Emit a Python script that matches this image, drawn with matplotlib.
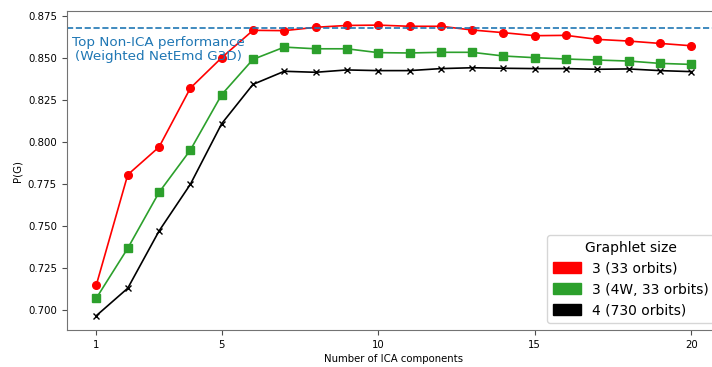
import matplotlib
matplotlib.use("Agg")
import matplotlib.pyplot as plt
from matplotlib.patches import Patch

components = list(range(1, 21))
size3 = [0.7151, 0.7805, 0.7970, 0.8321, 0.8502, 0.8665, 0.8663, 0.8683, 0.8694, 0.8696,
         0.8689, 0.8689, 0.8667, 0.8651, 0.8633, 0.8635, 0.8611, 0.8601, 0.8587, 0.8573]
size3_4w = [0.7071, 0.7367, 0.7700, 0.7952, 0.8282, 0.8492, 0.8565, 0.8555, 0.8555, 0.8532,
            0.8530, 0.8534, 0.8534, 0.8512, 0.8502, 0.8494, 0.8488, 0.8482, 0.8468, 0.8462]
size4 = [0.6966, 0.7129, 0.7470, 0.7748, 0.8109, 0.8343, 0.8421, 0.8415, 0.8429, 0.8425,
         0.8425, 0.8437, 0.8442, 0.8439, 0.8437, 0.8437, 0.8433, 0.8435, 0.8425, 0.8419]
top_non_ica = 0.8677
labels = ["3 (33 orbits)", "3 (4W, 33 orbits)", "4 (730 orbits)"]
colors = ["red", "#2ca02c", "black"]
xticks = [1, 5, 10, 15, 20]

fig = plt.figure(figsize=(7.12, 3.67), dpi=100)
ax = fig.add_axes([0.0937, 0.1008, 0.919, 0.8692])

ax.plot(components, size3, color=colors[0], marker="o", markersize=5.5, lw=1.2)
ax.plot(components, size3_4w, color=colors[1], marker="s", markersize=5.5, lw=1.2)
ax.plot(components, size4, color=colors[2], marker="x", markersize=5, lw=1.2)
ax.axhline(top_non_ica, color="#1f77b4", ls="--", lw=1.2)

ax.text(2.98, 0.8551, "Top Non-ICA performance\n(Weighted NetEmd G3D)", color="#1f77b4",
        fontsize=9.7, ha="center", va="center", linespacing=1.1)

ax.set_xlim(0.05, 20.95)
ax.set_ylim(0.688, 0.878)
ax.set_xticks(xticks)
ax.set_yticks([0.700, 0.725, 0.750, 0.775, 0.800, 0.825, 0.850, 0.875])
ax.yaxis.set_major_formatter(matplotlib.ticker.FormatStrFormatter("%.3f"))
ax.tick_params(labelsize=7.3, color="0.3")
ax.set_xlabel("Number of ICA components", fontsize=7.3, labelpad=3)
ax.set_ylabel("P(G)", fontsize=7.3)
for s in ax.spines.values():
    s.set_color("0.45")

handles = [Patch(color=c, label=l) for c, l in zip(colors, labels)]
leg = ax.legend(handles=handles, title="Graphlet size", loc="lower right", fontsize=10,
                title_fontsize=10, handleheight=0.8)

fig.savefig("out.png", dpi=100)
